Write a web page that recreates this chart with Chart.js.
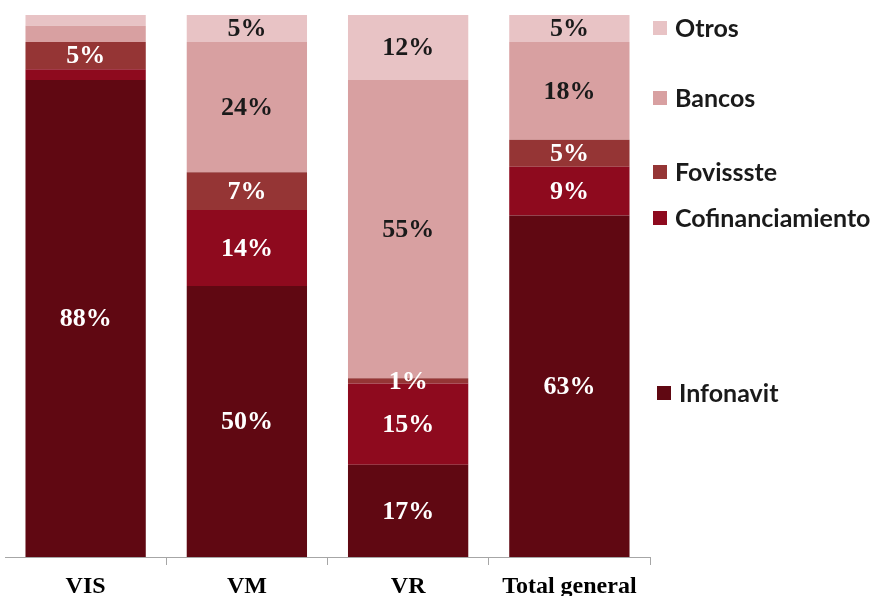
<!DOCTYPE html>
<html>
<head>
<meta charset="utf-8">
<script src="https://cdn.jsdelivr.net/npm/chart.js@4.4.1/dist/chart.umd.min.js"></script>
<style>
  html, body { margin: 0; padding: 0; background: #fff; }
  #wrap { position: relative; width: 874px; height: 596px; }
  .leg { position: absolute; font: bold 25px Lato, sans-serif; color: #1a1a1a; display: flex; align-items: center; line-height: 1; }
  .leg i { display: inline-block; width: 14px; height: 14px; margin-right: 8px; }
</style>
</head>
<body>
<div id="wrap">
  <canvas id="chart" width="874" height="596"></canvas>
</div>
<script>
const categories = ['VIS', 'VM', 'VR', 'Total general'];

// share of credits per source, in percent
const infonavit        = [88, 50, 17, 63];
const cofinanciamiento = [2, 14, 15, 9];
const fovissste        = [5, 7, 1, 5];
const bancos           = [3, 24, 55, 18];
const otros            = [2, 5, 12, 5];

const seriesNames  = ['Infonavit', 'Cofinanciamiento', 'Fovissste', 'Bancos', 'Otros'];
const seriesColors = ['#600812', '#8e0a1e', '#953535', '#d8a0a1', '#e8c3c5'];
const labelColors  = ['#ffffff', '#ffffff', '#ffffff', '#1a1a1a', '#1a1a1a'];

// thin VIS slices are left without a label
const hiddenLabels = { Cofinanciamiento: ['VIS'], Bancos: ['VIS'], Otros: ['VIS'] };

// legend rows, top to bottom, with their vertical centre
const legendOrder = ['Otros', 'Bancos', 'Fovissste', 'Cofinanciamiento', 'Infonavit'];
const legendY     = [27, 97, 171, 217, 392];

const segmentLabels = {
  id: 'segmentLabels',
  afterDatasetsDraw(chart) {
    const ctx = chart.ctx;
    ctx.save();
    ctx.font = 'bold 26px "Liberation Serif", "Times New Roman", serif';
    ctx.textAlign = 'center';
    ctx.textBaseline = 'middle';
    chart.data.datasets.forEach((ds, i) => {
      const skip = hiddenLabels[ds.label] || [];
      chart.getDatasetMeta(i).data.forEach((bar, j) => {
        if (skip.includes(categories[j])) return;
        ctx.fillStyle = labelColors[i];
        ctx.fillText(ds.data[j] + '%', bar.x, (bar.y + bar.base) / 2 + 1);
      });
    });
    ctx.restore();
  }
};

const allSeries = [infonavit, cofinanciamiento, fovissste, bancos, otros];

new Chart(document.getElementById('chart'), {
  type: 'bar',
  data: {
    labels: categories,
    datasets: allSeries.map((values, i) => ({
      label: seriesNames[i],
      data: values,
      backgroundColor: seriesColors[i],
      borderWidth: 0,
      barPercentage: 0.746,
      categoryPercentage: 1
    }))
  },
  options: {
    responsive: false,
    animation: false,
    layout: { padding: { left: 5, right: 224, top: 15, bottom: -13 } },
    plugins: {
      legend: { display: false },
      tooltip: { enabled: false }
    },
    scales: {
      x: {
        stacked: true,
        border: { display: true, color: '#a6a6a6', width: 1 },
        grid: {
          display: true,
          drawOnChartArea: false,
          tickLength: 8,
          color: c => (c.index === 0 ? 'rgba(0,0,0,0)' : '#a6a6a6')
        },
        ticks: {
          color: '#000',
          padding: 10,
          font: { family: '"Liberation Serif", "Times New Roman", serif', weight: 'bold', size: 24, lineHeight: 1 }
        }
      },
      y: {
        stacked: true,
        display: false,
        min: 0,
        max: 100
      }
    }
  },
  plugins: [segmentLabels]
});

// legend on the right
const wrap = document.getElementById('wrap');
legendOrder.forEach((name, k) => {
  const row = document.createElement('div');
  row.className = 'leg';
  row.style.left = (name === 'Infonavit' ? 657 : 653) + 'px';
  row.style.top = (legendY[k] - 12) + 'px';
  const sw = document.createElement('i');
  sw.style.background = seriesColors[seriesNames.indexOf(name)];
  row.appendChild(sw);
  row.appendChild(document.createTextNode(name));
  wrap.appendChild(row);
});
</script>
</body>
</html>
